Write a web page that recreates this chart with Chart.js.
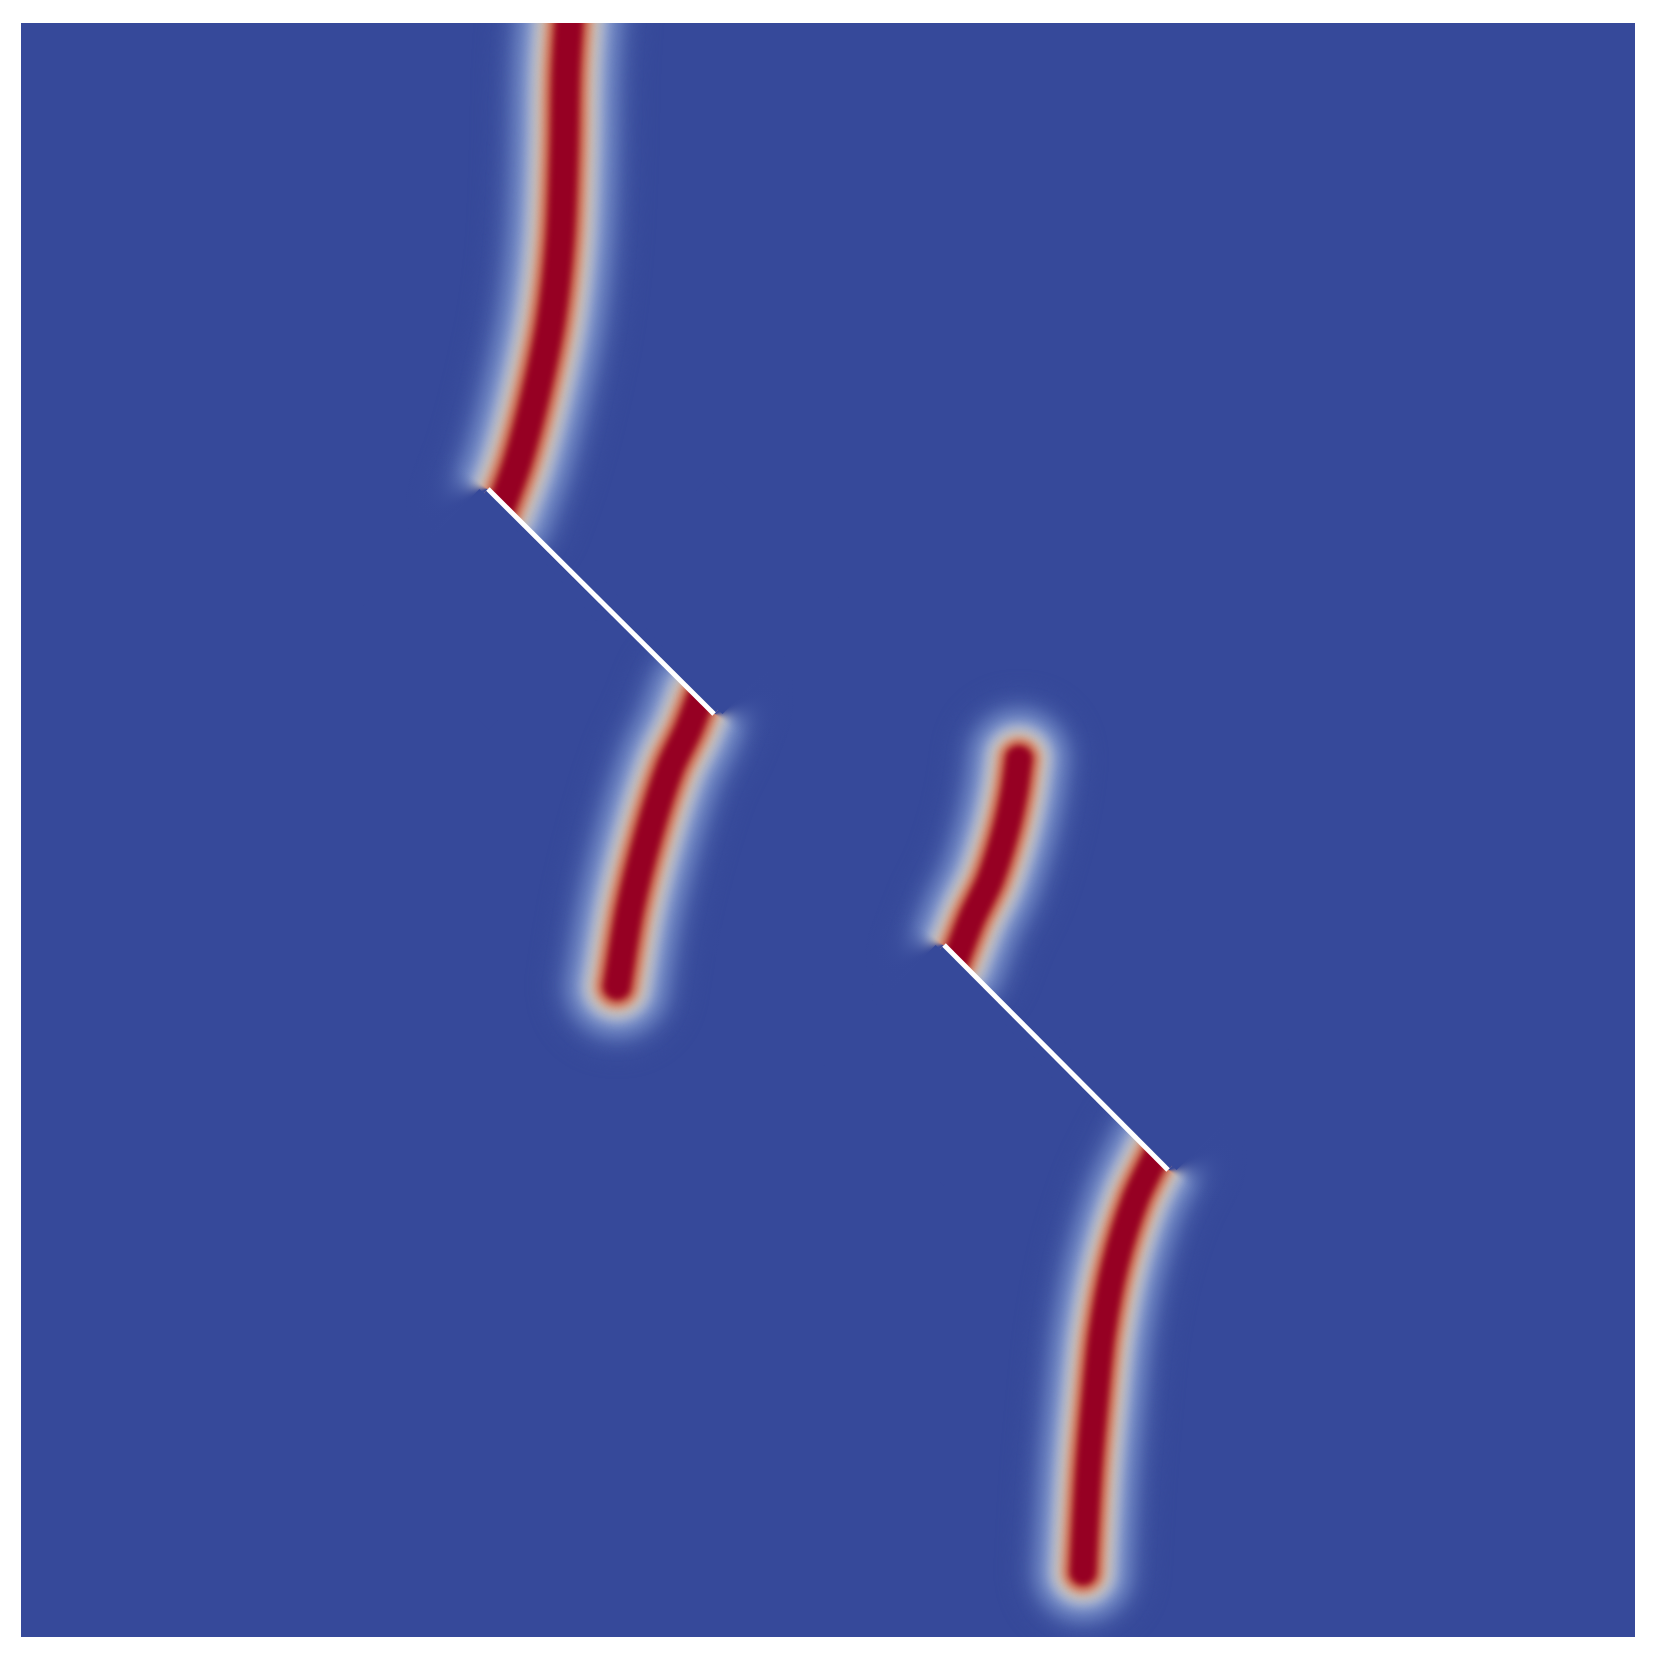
<!DOCTYPE html>
<html>
<head>
<meta charset="utf-8">
<script src="https://cdn.jsdelivr.net/npm/chart.js@4.4.1/dist/chart.umd.min.js"></script>
<style>
  html, body { margin: 0; padding: 0; background: #ffffff; }
  #wrap { width: 1654px; height: 1656px; }
</style>
</head>
<body>
<div id="wrap"><canvas id="c" width="1654" height="1656"></canvas></div>
<script>
// Domain coordinates (unit square, y upward)
const crackTop      = [[0.3408,1.0195],[0.3377,0.9709],[0.3365,0.9213],[0.3340,0.8656],[0.3284,0.8160],[0.3191,0.7708],[0.3079,0.7286],[0.2968,0.6977]];
const crackMidLeft  = [[0.4213,0.5824],[0.4133,0.5620],[0.4021,0.5384],[0.3891,0.4981],[0.3773,0.4511],[0.3693,0.4033]];
const crackMidRight = [[0.5787,0.4182],[0.5892,0.4455],[0.6004,0.4690],[0.6097,0.4981],[0.6153,0.5229],[0.6183,0.5440]];
const crackBottom   = [[0.7045,0.3005],[0.6903,0.2708],[0.6778,0.2305],[0.6698,0.1884],[0.6654,0.1468],[0.6617,0.1053],[0.6592,0.0644],[0.6580,0.0403]];
const flawUpper     = [[0.2893,0.7113],[0.4294,0.5719]];
const flawLower     = [[0.5719,0.4287],[0.7107,0.2893]];

const BG = '#36499a';
const toPts = arr => arr.map(p => ({x: p[0], y: p[1]}));

// colour layers from outer halo to core: [width, colour, blur]
const layers = [
  [136, 'rgb(62,82,160)', 10],
  [112, 'rgb(85,107,178)', 8],
  [92,  'rgb(118,140,198)', 7],
  [74,  'rgb(160,173,208)', 5],
  [60,  'rgb(198,190,185)', 4],
  [46,  'rgb(214,150,125)', 3.5],
  [36,  'rgb(196,95,75)', 3],
  [28,  'rgb(168,30,44)', 2.5],
  [21,  'rgb(150,0,35)', 2]
];

const datasets = [];
function addCrack(arr, scale, cut) {
  layers.forEach(L => {
    datasets.push({
      data: toPts(arr), showLine: true,
      borderColor: L[1], backgroundColor: L[1], borderWidth: L[0] * scale,
      borderCapStyle: 'round', borderJoinStyle: 'round', tension: 0.3,
      pointRadius: 0, pointHoverRadius: 0, clip: 0, blurPx: L[2]
    });
  });
  if (cut) datasets.push({ data: [], maskCut: cut, pointRadius: 0 });
}

addCrack(crackTop, 1.05, {flaw: flawUpper, end: 0, ref: crackTop});
addCrack(crackMidLeft, 1.02, {flaw: flawUpper, end: 1, ref: crackMidLeft});
addCrack(crackMidRight, 0.98, {flaw: flawLower, end: 0, ref: crackMidRight});
addCrack(crackBottom, 0.97, {flaw: flawLower, end: 1, ref: crackBottom});

[flawUpper, flawLower].forEach(f => datasets.push({
  data: toPts(f), showLine: true, borderColor: '#ffffff', borderWidth: 5,
  borderCapStyle: 'butt', pointRadius: 0, tension: 0, clip: 0
}));
// draw strictly in array order
datasets.forEach((ds, i) => { ds.order = datasets.length - i; });

function drawMask(chart, cut) {
  const ctx = chart.ctx;
  const xs = chart.scales.x, ys = chart.scales.y;
  const P = p => ({x: xs.getPixelForValue(p[0]), y: ys.getPixelForValue(p[1])});
  const A = P(cut.flaw[cut.end]), B = P(cut.flaw[1 - cut.end]);
  const len = Math.hypot(B.x - A.x, B.y - A.y);
  const d = {x: (B.x - A.x) / len, y: (B.y - A.y) / len};
  let n = {x: -d.y, y: d.x};
  const M = P(cut.ref[Math.floor(cut.ref.length / 2)]);
  if ((M.x - A.x) * n.x + (M.y - A.y) * n.y > 0) n = {x: -n.x, y: -n.y};
  const R = 170, o = 6;
  ctx.save();
  ctx.fillStyle = BG;
  ctx.beginPath();
  ctx.moveTo(A.x - d.x * o + n.x * o, A.y - d.y * o + n.y * o);
  ctx.lineTo(A.x + d.x * R, A.y + d.y * R);
  ctx.lineTo(A.x + (d.x + n.x) * R, A.y + (d.y + n.y) * R);
  ctx.lineTo(A.x + (n.x - d.x * o / R) * R, A.y + (n.y - d.y * o / R) * R);
  ctx.closePath();
  ctx.fill();
  ctx.beginPath();
  ctx.moveTo(A.x, A.y);
  ctx.lineTo(A.x + d.x * R, A.y + d.y * R);
  ctx.lineTo(A.x + (d.x + n.x * 0.1) * R, A.y + (d.y + n.y * 0.1) * R);
  ctx.lineTo(A.x + n.x * o, A.y + n.y * o);
  ctx.closePath();
  ctx.fill();
  // soft part: around the flaw tip
  const a0 = Math.atan2(-d.y, -d.x);
  const a1 = Math.atan2(n.y, n.x);
  let delta = a1 - a0;
  while (delta > Math.PI) delta -= 2 * Math.PI;
  while (delta <= -Math.PI) delta += 2 * Math.PI;
  const g = ctx.createConicGradient(a0, A.x, A.y);
  const span = Math.abs(delta) * 0.85 / (2 * Math.PI);
  const col = a => `rgba(54,73,154,${a})`;
  const K = 10;
  const stops = [];
  for (let k = 0; k <= K; k++) {
    const u = k / K;
    const a = u * u * (3 - 2 * u);
    stops.push(delta > 0 ? [u * span, a] : [1 - u * span, a]);
  }
  if (delta > 0) stops.push([1, 0]); else stops.push([0, 0]);
  stops.sort((p, q) => p[0] - q[0]).forEach(s => g.addColorStop(s[0], col(s[1])));
  ctx.fillStyle = g;
  ctx.beginPath();
  ctx.moveTo(A.x, A.y);
  ctx.lineTo(A.x - d.x * R, A.y - d.y * R);
  ctx.lineTo(A.x + (n.x - d.x) * R, A.y + (n.y - d.y) * R);
  ctx.lineTo(A.x + n.x * R, A.y + n.y * R);
  ctx.closePath();
  ctx.fill();
  ctx.restore();
}

const bgPlugin = {
  id: 'bg',
  beforeDatasetsDraw(chart) {
    const {ctx, chartArea: a} = chart;
    ctx.save();
    ctx.fillStyle = BG;
    ctx.fillRect(a.left, a.top, a.right - a.left, a.bottom - a.top);
    ctx.restore();
  }
};
const blurPlugin = {
  id: 'blur',
  beforeDatasetDraw(chart, args) {
    const ds = chart.data.datasets[args.index];
    chart.ctx.save();
    if (ds.blurPx) chart.ctx.filter = 'blur(' + ds.blurPx + 'px)';
  },
  afterDatasetDraw(chart, args) {
    chart.ctx.restore();
    const ds = chart.data.datasets[args.index];
    if (ds.maskCut) drawMask(chart, ds.maskCut);
  }
};

new Chart(document.getElementById('c'), {
  type: 'scatter',
  data: { datasets },
  options: {
    responsive: false,
    animation: false,
    devicePixelRatio: 1,
    layout: { padding: { left: 21, top: 23, right: 19, bottom: 19 } },
    scales: {
      x: { type: 'linear', min: 0, max: 1, display: false },
      y: { type: 'linear', min: 0, max: 1, display: false }
    },
    plugins: { legend: { display: false }, tooltip: { enabled: false } },
    events: []
  },
  plugins: [bgPlugin, blurPlugin]
});
</script>
</body>
</html>
